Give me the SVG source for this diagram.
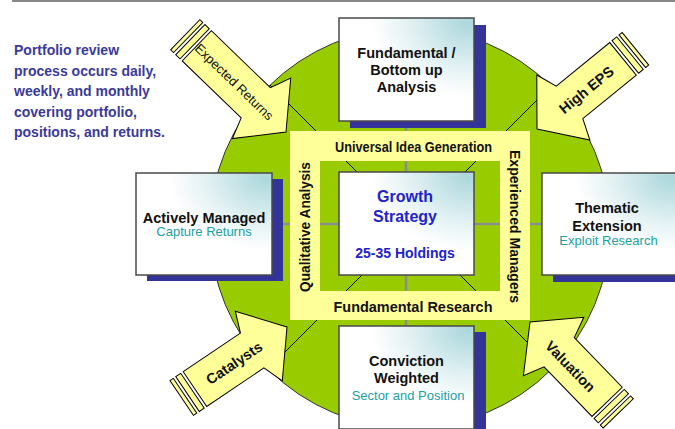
<svg xmlns="http://www.w3.org/2000/svg" width="675" height="429" viewBox="0 0 675 429">
<defs>
<radialGradient id="boxg" cx="1" cy="0" r="1" fx="0.95" fy="0.05">
<stop offset="0" stop-color="#ABD7DC"/>
<stop offset="0.45" stop-color="#E2F1F3"/>
<stop offset="0.75" stop-color="#FFFFFF"/>
</radialGradient>
</defs>
<style>
text{font-family:"Liberation Sans",Arial,sans-serif}
.box{fill:url(#boxg);stroke:#4a4a4a;stroke-width:1.5}
.sh{fill:#333399}
.arr{fill:#FFFF99;stroke:#000;stroke-width:1}
.title{font-weight:bold;font-size:14.5px;fill:#111;text-anchor:middle}
.sub{font-size:13px;fill:#22A0A0;text-anchor:middle}
.band{font-weight:bold;font-size:14px;fill:#111;text-anchor:middle}
.alab{font-size:14.5px;font-weight:bold;fill:#111;text-anchor:middle}
.gray{stroke:#8C8C8C;stroke-width:2.5}
.diag{stroke:#000;stroke-width:1}
.blue{font-weight:bold;fill:#2222CC;text-anchor:middle}
.note{font-weight:bold;font-size:14px;fill:#3A3A9A}
</style>
<line x1="12" y1="1" x2="675" y2="1" stroke="#888" stroke-width="2"/>
<g id="note">
<text class="note" x="14" y="55">Portfolio review</text>
<text class="note" x="14" y="75.5">process occurs daily,</text>
<text class="note" x="14" y="96">weekly, and monthly</text>
<text class="note" x="14" y="116.5">covering portfolio,</text>
<text class="note" x="14" y="137">positions, and returns.</text>
</g>
<g id="background">
<circle cx="410" cy="228" r="200" fill="#99CC00" stroke="#333" stroke-width="1"/>
</g>
<g id="connectors">
<line class="gray" x1="406" y1="28" x2="406" y2="428"/>
<line class="gray" x1="210" y1="224" x2="610" y2="224"/>
<line class="diag" x1="270" y1="85" x2="552" y2="367"/>
<line class="diag" x1="270" y1="367" x2="552" y2="85"/>
</g>
<g id="frame">
<rect x="290" y="131" width="240" height="189" fill="#FFFF99"/>
<rect x="320" y="161" width="180" height="130" fill="#99CC00"/>
<line class="gray" x1="406" y1="161" x2="406" y2="291"/>
<line class="gray" x1="320" y1="224" x2="500" y2="224"/>
<line class="diag" x1="346" y1="161" x2="476" y2="291"/>
<line class="diag" x1="476" y1="161" x2="346" y2="291"/>
<text class="band" x="413.5" y="151.5" textLength="157" lengthAdjust="spacingAndGlyphs">Universal Idea Generation</text>
<text class="band" x="413" y="312" textLength="159" lengthAdjust="spacingAndGlyphs">Fundamental Research</text>
<text class="band" transform="translate(310,227) rotate(-90)" textLength="130" lengthAdjust="spacingAndGlyphs">Qualitative Analysis</text>
<text class="band" transform="translate(510,226.5) rotate(90)" textLength="153" lengthAdjust="spacingAndGlyphs">Experienced Managers</text>
</g>
<g id="node-center">
<rect class="box" x="339" y="172" width="135" height="103"/>
<text class="blue" x="405" y="202" font-size="16">Growth</text>
<text class="blue" x="405" y="222" font-size="16">Strategy</text>
<text class="blue" x="405" y="258" font-size="14">25-35 Holdings</text>
</g>
<g id="node-top">
<rect class="sh" x="350" y="25" width="136" height="103"/>
<rect class="box" x="339" y="18" width="135" height="103"/>
<text class="title" x="406.5" y="57.5">Fundamental /</text>
<text class="title" x="406.5" y="75">Bottom up</text>
<text class="title" x="406.5" y="92">Analysis</text>
</g>
<g id="node-left">
<rect class="sh" x="147" y="179" width="136" height="102"/>
<rect class="box" x="136" y="173" width="136" height="102"/>
<text class="title" x="204" y="222.5">Actively Managed</text>
<text class="sub" x="204" y="236">Capture Returns</text>
</g>
<g id="node-right">
<rect class="sh" x="553" y="180" width="136" height="102"/>
<rect class="box" x="542" y="173" width="136" height="102"/>
<text class="title" x="607" y="213">Thematic</text>
<text class="title" x="607" y="230.5">Extension</text>
<text class="sub" x="608.5" y="245">Exploit Research</text>
</g>
<g id="node-bottom">
<rect class="sh" x="350" y="332" width="136" height="103"/>
<rect class="box" x="339" y="326" width="135" height="103"/>
<text class="title" x="406.5" y="366">Conviction</text>
<text class="title" x="406.5" y="383">Weighted</text>
<text class="sub" x="408" y="400">Sector and Position</text>
</g>
<g id="arrow-expected-returns" transform="translate(286,132) rotate(44)">
<polygon class="arr" points="0,0 -34,-42 -42,-21 -124,-21 -124,21 -42,21 -34,42"/>
<rect class="arr" x="-133" y="-21" width="6" height="42"/>
<rect class="arr" x="-140" y="-21" width="4" height="42"/>
<text x="-72" y="4.5" font-size="13" fill="#111" text-anchor="middle">Expected Returns</text>
</g>
<g id="arrow-high-eps" transform="translate(537,129) rotate(140.8)">
<polygon class="arr" points="0,0 -34,-42 -42,-21 -111,-21 -111,21 -42,21 -34,42"/>
<rect class="arr" x="-120" y="-21" width="6" height="42"/>
<rect class="arr" x="-127" y="-21" width="4" height="42"/>
<text class="alab" transform="translate(-63,-1) rotate(180)" y="5">High EPS</text>
</g>
<g id="arrow-catalysts" transform="translate(287,327) rotate(-34)">
<polygon class="arr" points="0,0 -34,-42 -42,-21 -111,-21 -111,21 -42,21 -34,42"/>
<rect class="arr" x="-120" y="-21" width="6" height="42"/>
<rect class="arr" x="-127" y="-21" width="4" height="42"/>
<text class="alab" x="-64" y="5.5">Catalysts</text>
</g>
<g id="arrow-valuation" transform="translate(530,322) rotate(-134)">
<polygon class="arr" points="0,0 -34,-42 -42,-21 -111,-21 -111,21 -42,21 -34,42"/>
<rect class="arr" x="-120" y="-21" width="6" height="42"/>
<rect class="arr" x="-127" y="-21" width="4" height="42"/>
<text class="alab" transform="translate(-60,-2) rotate(180)" y="5">Valuation</text>
</g>
</svg>
